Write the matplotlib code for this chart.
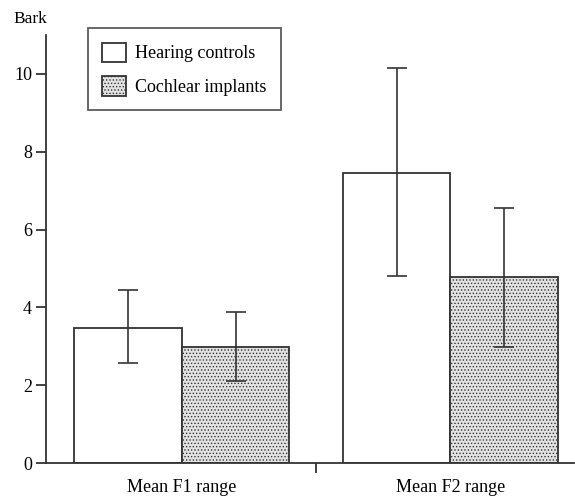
import matplotlib.pyplot as plt
import matplotlib as mpl
import numpy as np

plt.rcParams['font.family'] = ['Liberation Serif', 'DejaVu Serif']
plt.rcParams['hatch.color'] = '#9a9a9a'
plt.rcParams['hatch.linewidth'] = 0.6

groups = ['Mean F1 range', 'Mean F2 range']
hearing = [3.47, 7.46]
hearing_lo = [2.57, 4.81]
hearing_hi = [4.45, 10.15]
cochlear = [2.97, 4.77]
cochlear_lo = [2.1, 2.97]
cochlear_hi = [3.88, 6.56]

fig = plt.figure(figsize=(5.75, 4.96), dpi=100)
ax = fig.add_axes([0.08, 0.0665, 0.918, 0.863])

x = np.arange(len(groups))
w = 0.4
h = np.array(hearing)
c = np.array(cochlear)
ax.bar(x - w / 2, h, w, facecolor='white', edgecolor='#333333', linewidth=1.3,
       label='Hearing controls')
ax.bar(x + w / 2, c, w, facecolor='#e2e2e2', edgecolor='#333333', linewidth=1.3,
       hatch='.....', label='Cochlear implants')
ax.errorbar(x - w / 2, h, yerr=[h - np.array(hearing_lo), np.array(hearing_hi) - h],
            fmt='none', ecolor='#333333', elinewidth=1.2, capsize=7, capthick=1.2)
ax.errorbar(x + w / 2, c, yerr=[c - np.array(cochlear_lo), np.array(cochlear_hi) - c],
            fmt='none', ecolor='#333333', elinewidth=1.2, capsize=7, capthick=1.2)

ax.set_ylim(0, 11)
ax.set_xlim(-0.506, 1.46)
ax.set_yticks([0, 2, 4, 6, 8, 10])
ax.set_xticks([0.5])
ax.set_xticklabels([''])
ax.tick_params(direction='out', length=7, width=1.3, color='#333333', labelsize=13, pad=3)
for s in ['top', 'right']:
    ax.spines[s].set_visible(False)
for s in ['left', 'bottom']:
    ax.spines[s].set_linewidth(1.3)
    ax.spines[s].set_color('#333333')

for xi, g in zip(x, groups):
    ax.text(xi, -0.4, g, ha='center', va='top', fontsize=13)

fig.text(0.024, 0.962, 'Bark', fontsize=12.5, ha='left', va='center')

leg = ax.legend(loc='upper left', bbox_to_anchor=(0.0795, 1.016), fontsize=13,
                handlelength=1.3, handleheight=1.3, frameon=True, fancybox=False,
                edgecolor='#333333', borderpad=0.8, labelspacing=0.75,
                handletextpad=0.5, borderaxespad=0)
leg.get_frame().set_linewidth(1.3)

fig.savefig('out.png', dpi=100)
